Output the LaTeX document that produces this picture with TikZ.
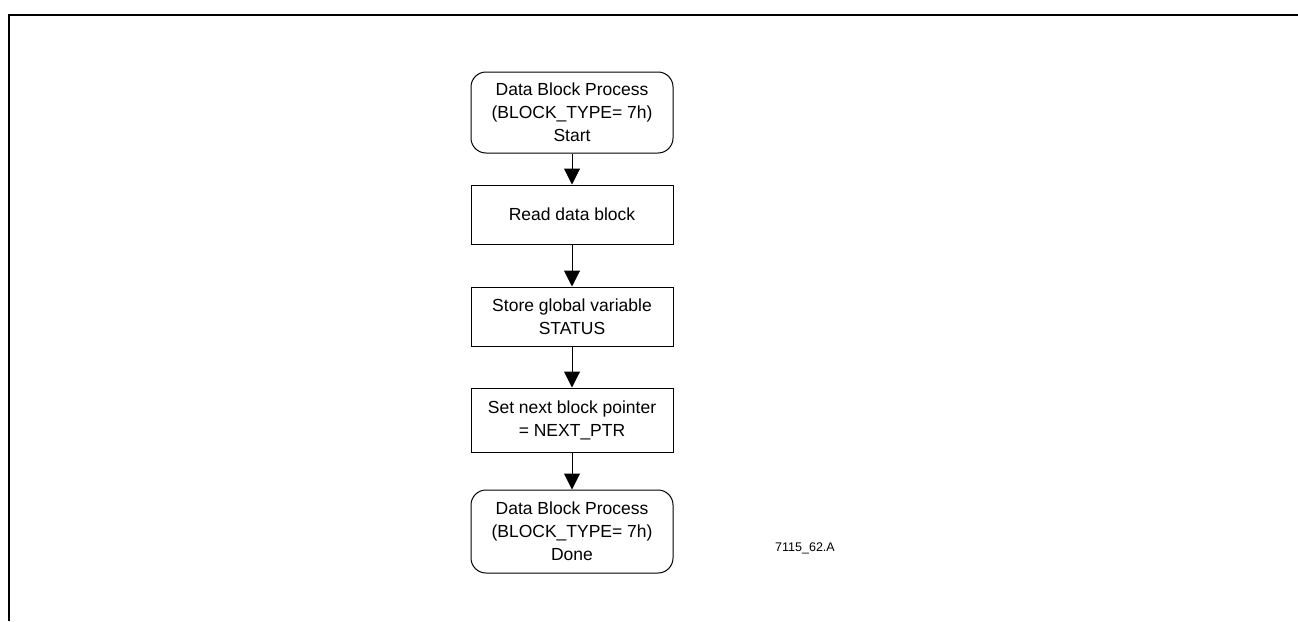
\documentclass[tikz,border=0pt]{standalone}
\usepackage{fontspec}
\setmainfont{Liberation Sans}
\usetikzlibrary{arrows.meta}
\begin{document}
\begin{tikzpicture}[x=1pt,y=-1pt,
  every node/.style={font=\fontsize{17.5}{23}\selectfont, align=center, inner sep=0pt},
  termbox/.style={draw, line width=1pt, rounded corners=15pt, minimum width=202pt},
  procbox/.style={draw, line width=1pt, minimum width=202pt},
  flow/.style={line width=1pt, -{Triangle[width=16pt,length=16pt]}}]
\useasboundingbox (0,0) rectangle (1298,621);
\draw[line width=2pt] (9,621) -- (9,15) -- (1298,15);
\node[termbox, minimum height=81pt] (start) at (572,112.5) {Data Block Process\\(BLOCK\_TYPE= 7h)\\Start};
\node[procbox, minimum height=59pt] (read) at (572,214.5) {Read data block};
\node[procbox, minimum height=59pt] (store) at (572,316.5) {Store global variable\\STATUS};
\node[procbox, minimum height=64pt] (next) at (572,420) {Set next block pointer\\= NEXT\_PTR};
\node[termbox, minimum height=83pt] (done) at (572,531.5) {Data Block Process\\(BLOCK\_TYPE= 7h)\\Done};
\node[font=\fontsize{12.5}{15}\selectfont] (lbl) at (805,548) {7115\_62.A};
\draw[flow] (start) -- (read);
\draw[flow] (read) -- (store);
\draw[flow] (store) -- (next);
\draw[flow] (next) -- (done);
\end{tikzpicture}
\end{document}
